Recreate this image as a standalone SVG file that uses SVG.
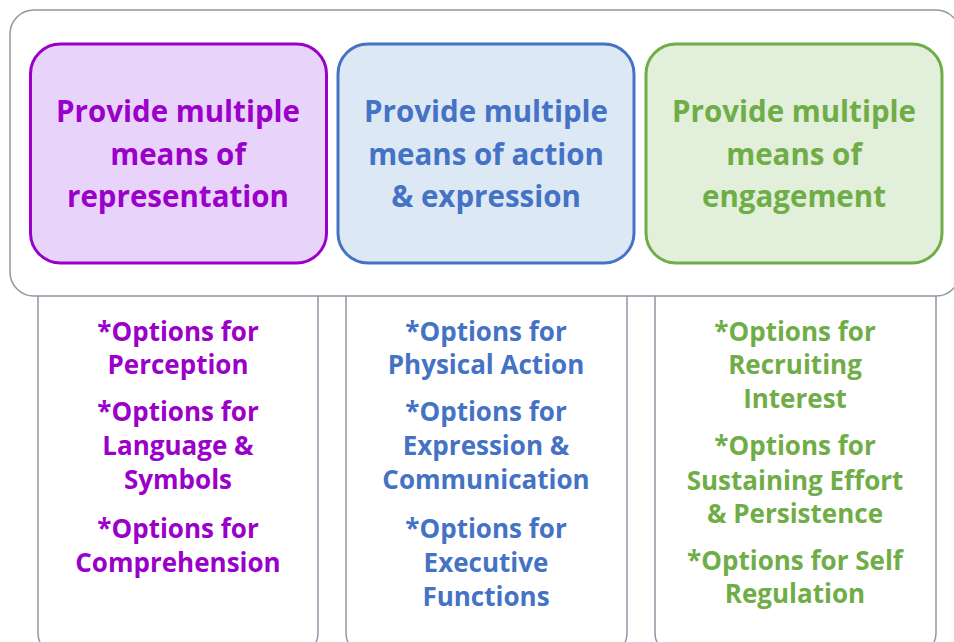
<svg xmlns="http://www.w3.org/2000/svg" width="954" height="642" viewBox="0 0 954 642">
<style>
.frame{fill:#fff;stroke:#8e97a3;stroke-width:1.5}
.t{font-family:"Open Sans","Liberation Sans",sans-serif;font-weight:bold;text-anchor:middle}
.h{font-size:29.5px}
.s{font-size:26px}
.p{fill:#9a00c9}
.b{fill:#4472c4}
.g{fill:#6fad47}
</style>
<rect width="954" height="642" fill="#fff"/>
<g id="col1"><rect class="frame" x="38" y="270" width="280" height="385" rx="22"/>
<text class="t s p"><tspan x="178" y="341">*Options for</tspan><tspan x="178" y="374">Perception</tspan><tspan x="178" y="421">*Options for</tspan><tspan x="178" y="455">Language &amp;</tspan><tspan x="178" y="489">Symbols</tspan><tspan x="178" y="538">*Options for</tspan><tspan x="178" y="572">Comprehension</tspan></text></g>
<g id="col2"><rect class="frame" x="346" y="270" width="281" height="385" rx="22"/>
<text class="t s b"><tspan x="486" y="341">*Options for</tspan><tspan x="486" y="374">Physical Action</tspan><tspan x="486" y="421">*Options for</tspan><tspan x="486" y="455">Expression &amp;</tspan><tspan x="486" y="489">Communication</tspan><tspan x="486" y="538">*Options for</tspan><tspan x="486" y="572">Executive</tspan><tspan x="486" y="606">Functions</tspan></text></g>
<g id="col3"><rect class="frame" x="655" y="270" width="281" height="385" rx="22"/>
<text class="t s g"><tspan x="795" y="341">*Options for</tspan><tspan x="795" y="374">Recruiting</tspan><tspan x="795" y="408">Interest</tspan><tspan x="795" y="455">*Options for</tspan><tspan x="795" y="490">Sustaining Effort</tspan><tspan x="795" y="523">&amp; Persistence</tspan><tspan x="795" y="570">*Options for Self</tspan><tspan x="795" y="603">Regulation</tspan></text></g>
<g id="container"><rect class="frame" x="10" y="10" width="950" height="286" rx="24"/></g>
<g id="representation"><rect x="30.5" y="44" width="296" height="219" rx="30" fill="#e8d4fa" stroke="#9a00c9" stroke-width="3"/>
<text class="t h p"><tspan x="178" y="122">Provide multiple</tspan><tspan x="178" y="165">means of</tspan><tspan x="178" y="207">representation</tspan></text></g>
<g id="action"><rect x="338" y="44" width="296" height="219" rx="30" fill="#dde8f5" stroke="#4472c4" stroke-width="3"/>
<text class="t h b"><tspan x="486" y="122">Provide multiple</tspan><tspan x="486" y="165">means of action</tspan><tspan x="486" y="207">&amp; expression</tspan></text></g>
<g id="engagement"><rect x="646" y="44" width="296" height="219" rx="30" fill="#e2efda" stroke="#6fad47" stroke-width="3"/>
<text class="t h g"><tspan x="794" y="122">Provide multiple</tspan><tspan x="794" y="165">means of</tspan><tspan x="794" y="207">engagement</tspan></text></g>
<g id="connectors"/>
</svg>
